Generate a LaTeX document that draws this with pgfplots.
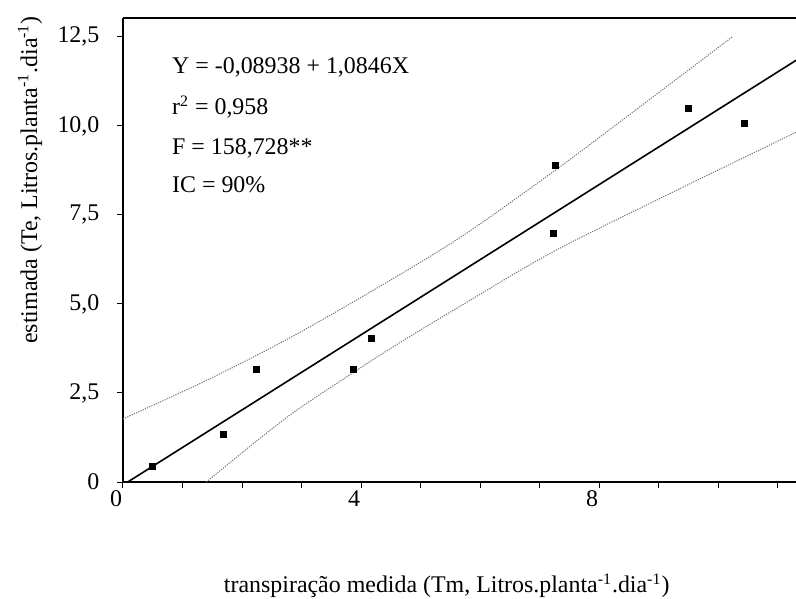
\documentclass[border=0pt]{standalone}
\usepackage{fontspec}
\setmainfont{Liberation Serif}
\usepackage{pgfplots}
\pgfplotsset{compat=1.18}

\begin{document}
\begin{tikzpicture}
% page = 796x599 px at 0.5bp per px, axis box origin at (123,482)
\path[use as bounding box] (-61.5bp,-58.5bp) rectangle (336.5bp,241bp);
\begin{axis}[
  at={(0,0)}, anchor=south west,
  scale only axis,
  width=336.5bp, height=232bp,
  xmin=0, xmax=11.31, ymin=0, ymax=13.03,
  axis x line*=box, axis y line*=left,
  xtick pos=left, ytick pos=left,
  tick align=outside,
  major tick length=2.8bp,
  xtick={0,...,11},
  xticklabels={0,,,,4,,,,8,,,},
  ytick={0,2.5,5,7.5,10,12.5},
  yticklabels={0,{2,5},{5,0},{7,5},{10,0},{12,5}},
  tick style={line width=0.5bp, black},
  axis line style={line width=0.65bp},
  every tick label/.append style={font=\fontsize{12}{14}\selectfont},
  xticklabel style={xshift=-3.5bp, yshift=2bp},
  yticklabel style={xshift=-5.5bp},
  label style={font=\fontsize{12}{14}\selectfont},
  xlabel={transpiração medida (Tm, Litros.planta\textsuperscript{-1}.dia\textsuperscript{-1})},
  xlabel style={at={(rel axis cs:0.481,-0.2392)}, anchor=base},
  ylabel={estimada (Te, Litros.planta\textsuperscript{-1}.dia\textsuperscript{-1})},
  ylabel style={at={(rel axis cs:-0.1382,0.651)}, anchor=center},
]
% confidence band (90%)
\addplot[black!55, line width=0.5bp, dash pattern=on 0.6bp off 0.6bp, smooth, tension=0.5] coordinates {
(0,1.77) (1.4,2.85) (2.74,3.99) (4.13,5.31) (5.65,6.85) (7.26,8.75) (8.84,10.73) (10.24,12.5)};
\addplot[black!55, line width=0.5bp, dash pattern=on 0.6bp off 0.6bp, smooth, tension=0.5] coordinates {
(1.40,0) (2.74,1.80) (3.85,3.05) (4.64,3.90) (5.65,4.92) (7.21,6.45) (9.13,8.05) (11.31,9.82)};
% regression line
\addplot[black, line width=0.8bp] coordinates {(0.08,0) (11.31,11.84)};
% observed points
\addplot[only marks, mark=square*, mark size=1.5bp, black] coordinates {
(0.49,0.45) (1.68,1.35) (2.24,3.17) (3.87,3.15) (4.17,4.02)
(7.26,8.88) (7.23,6.97) (9.51,10.48) (10.44,10.06)};

\node[anchor=base west, inner sep=0, font=\fontsize{12}{14}\selectfont] at (axis cs:0.82,11.46) {Y = -0,08938 + 1,0846X};
\node[anchor=base west, inner sep=0, font=\fontsize{12}{14}\selectfont] at (axis cs:0.82,10.31) {r\textsuperscript{2} = 0,958};
\node[anchor=base west, inner sep=0, font=\fontsize{12}{14}\selectfont] at (axis cs:0.82,9.21) {F = 158,728**};
\node[anchor=base west, inner sep=0, font=\fontsize{12}{14}\selectfont] at (axis cs:0.82,8.12) {IC = 90\%};
\end{axis}
\end{tikzpicture}
\end{document}
